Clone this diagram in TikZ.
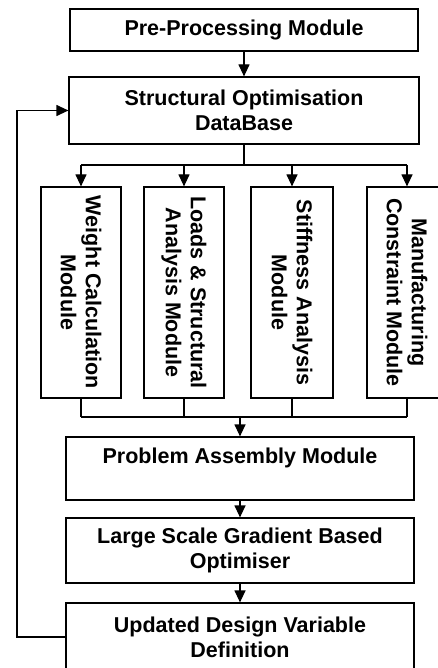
\documentclass[tikz,border=0pt]{standalone}
\usepackage{fontspec}
\setmainfont{Liberation Sans}
\usetikzlibrary{arrows.meta}
\tikzset{
  box/.style={draw, line width=1.2pt, fill=white, inner sep=0pt, align=center,
    font=\fontsize{21.5}{25}\selectfont\bfseries},
  vbox/.style={box, rotate=-90, minimum width=211pt, minimum height=80pt},
  conn/.style={line width=1.2pt},
  arr/.style={conn, -{Triangle[length=12pt,width=11pt]}}
}
\begin{document}
\begin{tikzpicture}[x=1pt,y=-1pt]
\useasboundingbox (0,0) rectangle (438,668);
\clip (0,0) rectangle (438,668);
\node[box, minimum width=348pt, minimum height=42pt] (pre) at (244,30) {Pre-Processing Module};
\node[box, minimum width=350pt, minimum height=67pt] (db) at (244,110.5) {Structural Optimisation\\DataBase};
\node[vbox] (v1) at (81,292.5) {Weight Calculation\\Module};
\node[vbox] (v2) at (184,292.5) {Loads \& Structural\\Analysis Module};
\node[vbox, minimum height=82pt] (v3) at (292,292.5) {Stiffness Analysis\\Module};
\node[vbox] (v4) at (407,292.5) {Manufacturing\\Constraint Module};
\node[box, minimum width=348pt, minimum height=63pt] (pa) at (240,468.5) {Problem Assembly Module\\\mbox{}};
\node[box, minimum width=348pt, minimum height=65pt] (lsg) at (240,550.5) {Large Scale Gradient Based\\Optimiser};
\node[box, minimum width=348pt, minimum height=68pt] (udv) at (240,637) {Updated Design Variable\\Definition};
\coordinate (bj) at (0,165);
\coordinate (mj) at (0,417);
\coordinate (fb) at (17,0);
\draw[arr] (pre.south) -- (pre.south |- db.north);
\draw[conn] (db.south) -- (db.south |- bj);
\draw[conn] (v1.west |- bj) -- (v4.west |- bj);
\draw[arr] (v1.west |- bj) -- (v1.west);
\draw[arr] (v2.west |- bj) -- (v2.west);
\draw[arr] (v3.west |- bj) -- (v3.west);
\draw[arr] (v4.west |- bj) -- (v4.west);
\draw[conn] (v1.east) -- (v1.east |- mj);
\draw[conn] (v2.east) -- (v2.east |- mj);
\draw[conn] (v3.east) -- (v3.east |- mj);
\draw[conn] (v4.east) -- (v4.east |- mj);
\draw[conn] (v1.east |- mj) -- (v4.east |- mj);
\draw[arr] (pa.north |- mj) -- (pa.north);
\draw[arr] (pa.south) -- (lsg.north);
\draw[arr] (lsg.south) -- (udv.north);
\draw[arr] (udv.west) -- (udv.west -| fb) -- (db.west -| fb) -- (db.west);
\end{tikzpicture}
\end{document}
